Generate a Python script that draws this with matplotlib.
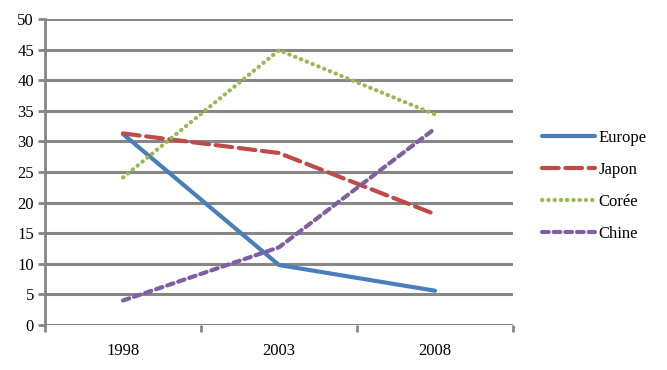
import matplotlib.pyplot as plt
from matplotlib.ticker import MultipleLocator, FixedLocator

years = ["1998", "2003", "2008"]
europe = [31.2, 9.8, 5.6]
japon = [31.3, 28.1, 18.1]
coree = [24.1, 44.9, 34.4]
chine = [4.0, 12.7, 32.1]

grid_col = "#868686"

plt.rcParams['font.family'] = ['Liberation Serif', 'DejaVu Serif']

fig = plt.figure(figsize=(6.67, 3.70), dpi=100)
ax = fig.add_axes([45 / 667, 1 - 325 / 370, 468 / 667, 306 / 370])

x = range(len(years))
ax.plot(x, europe, color="#4a7ebb", lw=3, solid_capstyle="round", label="Europe")
ax.plot(x, japon, color="#be4b48", lw=3, dashes=(4, 1.6), dash_capstyle="round", label="Japon")
ax.plot(x, coree, color="#98b954", lw=3, dashes=(0.1, 1.4), dash_capstyle="round", label="Corée")
ax.plot(x, chine, color="#7d60a0", lw=3, dashes=(1.6, 1.2), dash_capstyle="round", label="Chine")

ax.set_xlim(-0.5, len(years) - 0.5)
ax.set_ylim(0, 50)
ax.yaxis.set_major_locator(MultipleLocator(5))
ax.set_xticks(list(x))
ax.set_xticklabels(years)
ax.xaxis.set_minor_locator(FixedLocator([-0.5, 0.5, 1.5, 2.5]))
ax.tick_params(axis="x", which="major", length=0, pad=13, labelsize=12)
ax.tick_params(axis="x", which="minor", length=5, width=2, color=grid_col)
ax.tick_params(axis="y", length=5, width=2, color=grid_col, labelsize=12, pad=3)

ax.grid(axis="y", color=grid_col, lw=2.2)
ax.set_axisbelow(True)
for s in ["top", "right", "bottom"]:
    ax.spines[s].set_visible(False)
ax.spines["left"].set_color(grid_col)
ax.spines["left"].set_linewidth(2)

leg = ax.legend(loc="center left", bbox_to_anchor=(1.03, 0.455), frameon=False,
                fontsize=12, handlelength=3.2, handletextpad=0.2, labelspacing=0.95)

fig.savefig("out.png", dpi=100)
